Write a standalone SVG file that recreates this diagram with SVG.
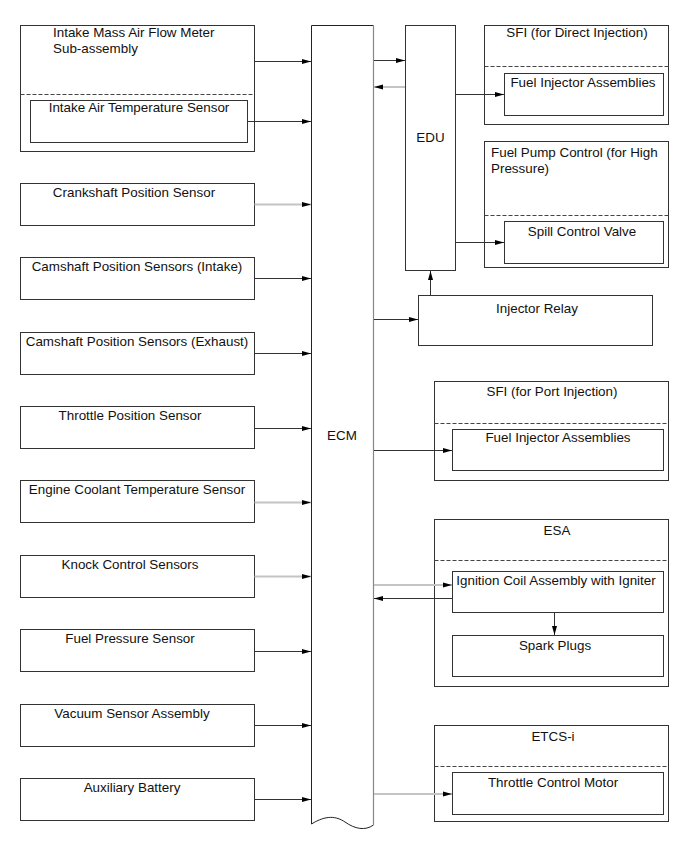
<svg xmlns="http://www.w3.org/2000/svg" width="689" height="854" viewBox="0 0 689 854">
<style>
.box{fill:#fff;stroke:#333;stroke-width:1}
.dash{stroke:#444;stroke-width:1;stroke-dasharray:4,2;fill:none}
.t{font-family:"Liberation Sans",Arial,sans-serif;font-size:13.4px;fill:#111}
.c{text-anchor:middle}
.ln{stroke:#333;stroke-width:1;fill:none}
.lg{stroke:#c4c4c4;stroke-width:2;fill:none}
</style>
<defs>
<marker id="ah" markerWidth="9" markerHeight="6" refX="9" refY="3" orient="auto" markerUnits="userSpaceOnUse">
<path d="M0,0.5 L9,3 L0,5.5 z" fill="#000"/>
</marker>
</defs>
<rect width="689" height="854" fill="#fff"/>

<g id="maf">
<rect class="box" x="20.5" y="25.5" width="234" height="126"/>
<line class="dash" x1="20.5" y1="94.5" x2="254.5" y2="94.5"/>
<text class="t" x="53" y="37">Intake Mass Air Flow Meter</text>
<text class="t" x="53" y="53">Sub-assembly</text>
</g>
<g id="iat">
<rect class="box" x="30.5" y="100.5" width="217" height="42"/>
<text class="t c" x="139" y="112">Intake Air Temperature Sensor</text>
</g>
<g id="ckp"><rect class="box" x="20.5" y="183.5" width="234" height="42"/><text class="t c" x="134" y="197">Crankshaft Position Sensor</text></g>
<g id="cmp-in"><rect class="box" x="20.5" y="257.5" width="234" height="42"/><text class="t c" x="137" y="271">Camshaft Position Sensors (Intake)</text></g>
<g id="cmp-ex"><rect class="box" x="20.5" y="332.5" width="234" height="42"/><text class="t c" x="137" y="346">Camshaft Position Sensors (Exhaust)</text></g>
<g id="tps"><rect class="box" x="20.5" y="406.5" width="234" height="42"/><text class="t c" x="130" y="420">Throttle Position Sensor</text></g>
<g id="ect"><rect class="box" x="20.5" y="480.5" width="234" height="42"/><text class="t c" x="137" y="494">Engine Coolant Temperature Sensor</text></g>
<g id="ks"><rect class="box" x="20.5" y="555.5" width="234" height="42"/><text class="t c" x="130" y="569">Knock Control Sensors</text></g>
<g id="fps"><rect class="box" x="20.5" y="629.5" width="234" height="42"/><text class="t c" x="130" y="643">Fuel Pressure Sensor</text></g>
<g id="vsa"><rect class="box" x="20.5" y="704.5" width="234" height="42"/><text class="t c" x="132" y="718">Vacuum Sensor Assembly</text></g>
<g id="aux"><rect class="box" x="20.5" y="778.5" width="234" height="42"/><text class="t c" x="132" y="792">Auxiliary Battery</text></g>

<g id="ecm">
<path d="M311.5,824 L311.5,25.5 L373.5,25.5 L373.5,825 C365,831 355,829 345,822 C336,816 326,815 311.5,824" fill="#fff" stroke="none"/>
<path d="M373.5,825 C365,831 355,829 345,822 C336,816 326,815 311.5,824 L311.5,25.5 L373.5,25.5" fill="none" stroke="#222" stroke-width="1"/>
<line x1="373.5" y1="25.5" x2="373.5" y2="825" stroke="#888" stroke-width="1.2"/>
<text class="t c" x="342" y="440">ECM</text>
</g>

<g id="edu">
<rect class="box" x="405.5" y="25.5" width="50" height="245"/>
<text class="t c" x="430.5" y="142">EDU</text>
</g>

<g id="sfi-di">
<rect class="box" x="484.5" y="25.5" width="184" height="99"/>
<line class="dash" x1="484.5" y1="66.5" x2="668.5" y2="66.5"/>
<text class="t c" x="577" y="37">SFI (for Direct Injection)</text>
</g>
<g id="fia-di">
<rect class="box" x="504.5" y="73.5" width="159" height="42"/>
<text class="t c" x="583" y="87">Fuel Injector Assemblies</text>
</g>

<g id="fpc">
<rect class="box" x="484.5" y="141.5" width="184" height="126"/>
<line class="dash" x1="484.5" y1="215.5" x2="668.5" y2="215.5"/>
<text class="t" x="491" y="157">Fuel Pump Control (for High</text>
<text class="t" x="491" y="173">Pressure)</text>
</g>
<g id="scv">
<rect class="box" x="504.5" y="221.5" width="159" height="42"/>
<text class="t c" x="582" y="236">Spill Control Valve</text>
</g>

<g id="relay">
<rect class="box" x="418.5" y="295.5" width="234" height="50"/>
<text class="t c" x="537" y="313">Injector Relay</text>
</g>

<g id="sfi-pi">
<rect class="box" x="434.5" y="381.5" width="234" height="99"/>
<line class="dash" x1="434.5" y1="423.5" x2="668.5" y2="423.5"/>
<text class="t c" x="552" y="396">SFI (for Port Injection)</text>
</g>
<g id="fia-pi">
<rect class="box" x="452.5" y="429.5" width="211" height="41"/>
<text class="t c" x="558" y="442">Fuel Injector Assemblies</text>
</g>

<g id="esa">
<rect class="box" x="434.5" y="519.5" width="234" height="167"/>
<line class="dash" x1="434.5" y1="560.5" x2="668.5" y2="560.5"/>
<text class="t c" x="557" y="535">ESA</text>
</g>
<g id="ign">
<rect class="box" x="452.5" y="571.5" width="211" height="41"/>
<text class="t c" x="556" y="585">Ignition Coil Assembly with Igniter</text>
</g>
<g id="spark">
<rect class="box" x="452.5" y="635.5" width="211" height="41"/>
<text class="t c" x="555" y="650">Spark Plugs</text>
</g>

<g id="etcs">
<rect class="box" x="434.5" y="725.5" width="234" height="96"/>
<line class="dash" x1="434.5" y1="766.5" x2="668.5" y2="766.5"/>
<text class="t c" x="553" y="741">ETCS-i</text>
</g>
<g id="tcm">
<rect class="box" x="452.5" y="772.5" width="211" height="42"/>
<text class="t c" x="553" y="787">Throttle Control Motor</text>
</g>

<g id="connectors">
<line class="ln" x1="254.5" y1="61.5" x2="311" y2="61.5" marker-end="url(#ah)"/>
<line class="ln" x1="247.5" y1="121.5" x2="311" y2="121.5" marker-end="url(#ah)"/>
<line class="lg" x1="254.5" y1="204.5" x2="311" y2="204.5" marker-end="url(#ah)"/>
<line class="ln" x1="254.5" y1="278.5" x2="311" y2="278.5" marker-end="url(#ah)"/>
<line class="ln" x1="254.5" y1="353.5" x2="311" y2="353.5" marker-end="url(#ah)"/>
<line class="ln" x1="254.5" y1="428.5" x2="311" y2="428.5" marker-end="url(#ah)"/>
<line class="lg" x1="254.5" y1="502.5" x2="311" y2="502.5" marker-end="url(#ah)"/>
<line class="lg" x1="254.5" y1="576.5" x2="311" y2="576.5" marker-end="url(#ah)"/>
<line class="ln" x1="254.5" y1="651.5" x2="311" y2="651.5" marker-end="url(#ah)"/>
<line class="ln" x1="254.5" y1="725.5" x2="311" y2="725.5" marker-end="url(#ah)"/>
<line class="ln" x1="254.5" y1="799.5" x2="311" y2="799.5" marker-end="url(#ah)"/>

<line class="ln" x1="374" y1="60.5" x2="405" y2="60.5" marker-end="url(#ah)"/>
<line class="lg" x1="405" y1="87" x2="374" y2="87" marker-end="url(#ah)"/>
<line class="ln" x1="455.5" y1="94.5" x2="504" y2="94.5" marker-end="url(#ah)"/>
<line class="ln" x1="455.5" y1="242.5" x2="504" y2="242.5" marker-end="url(#ah)"/>
<line class="ln" x1="430.5" y1="295.5" x2="430.5" y2="271" marker-end="url(#ah)"/>
<line class="ln" x1="374" y1="319.5" x2="418" y2="319.5" marker-end="url(#ah)"/>
<line class="ln" x1="374" y1="450.5" x2="452" y2="450.5" marker-end="url(#ah)"/>
<line class="lg" x1="374" y1="585" x2="452" y2="585" marker-end="url(#ah)"/>
<line class="ln" x1="452.5" y1="598.5" x2="374" y2="598.5" marker-end="url(#ah)"/>
<line class="ln" x1="554.5" y1="612.5" x2="554.5" y2="635" marker-end="url(#ah)"/>
<line class="lg" x1="374" y1="794" x2="452" y2="794" marker-end="url(#ah)"/>
</g>
</svg>
